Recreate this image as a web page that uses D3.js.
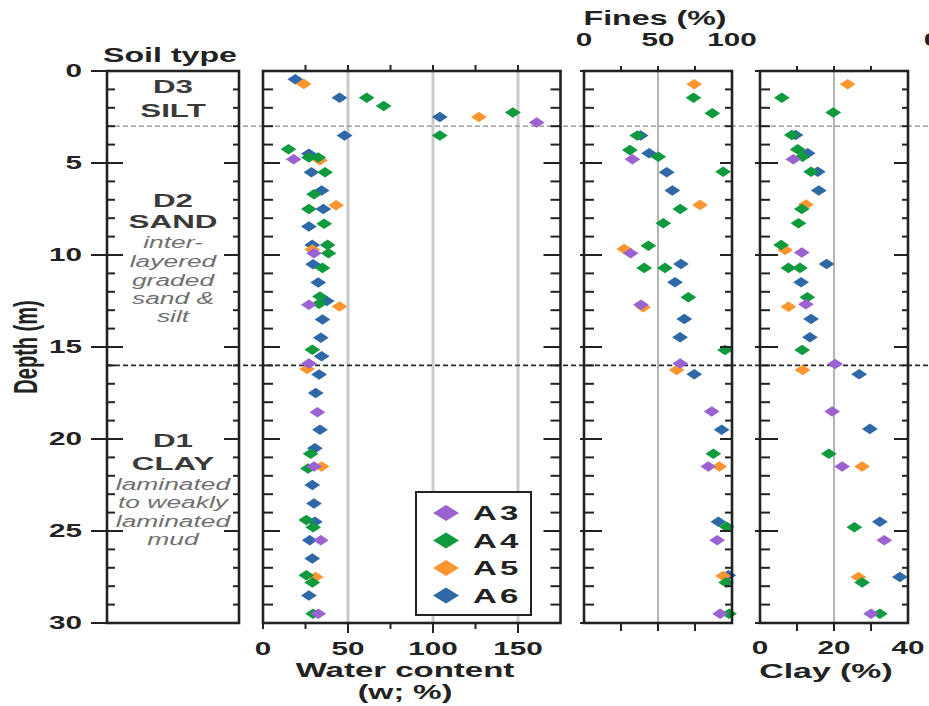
<!DOCTYPE html>
<html>
<head>
<meta charset="utf-8">
<script src="https://cdn.jsdelivr.net/npm/d3@7"></script>
<style>
  body { margin: 0; background: #fff; }
  text { font-family: "Liberation Sans", Arial, sans-serif; }
</style>
</head>
<body>
<svg id="chart" width="929" height="706"></svg>
<script>
// ---- data (depth in m, value) ----
var series = ["A3", "A4", "A5", "A6"];
var colors = ["#9b62d1", "#0f9a3e", "#ff952e", "#2f68a6"];

var depthTicks = [0, 5, 10, 15, 20, 25, 30];
var waterTicks = [0, 50, 100, 150];
var finesTicks = [0, 50, 100];
var clayTicks = [0, 20, 40];
var layerBounds = [3, 16];

var waterA3 = [[2.8,161],[4.8,18],[9.9,30],[12.7,27],[15.9,27],[18.55,32],[21.5,30],[25.5,34],[29.5,32.5]];
var waterA4 = [[1.45,61],[1.9,71],[2.25,147],[3.5,104],[4.25,15],[4.7,27],[4.7,32.5],[5.5,36.5],[6.7,30],
  [7.5,27],[8.3,36],[9.45,38],[9.9,38.5],[10.7,35],[12.25,33.5],[12.65,33],[15.15,29],[20.8,28],[21.6,26.5],
  [24.4,25.5],[24.8,29.5],[27.4,25.5],[27.8,29],[29.5,29.5]];
var waterA5 = [[0.7,24],[2.5,127],[4.85,33.5],[7.3,43],[9.7,29],[12.8,45],[16.2,26],[21.5,34.5],[27.5,31]];
var waterA6 = [[0.45,19],[1.45,45],[2.5,104],[3.5,48],[4.5,27],[5.5,28.5],[6.5,34.5],[7.5,35.5],[8.45,27],
  [9.45,29],[10.5,29.5],[11.5,32.5],[12.5,37.5],[13.5,35],[14.5,34],[15.5,34.5],[16.5,33],[17.5,31],
  [19.5,33.5],[20.5,30.5],[22.5,29],[23.5,30],[24.5,30.5],[25.5,27.5],[26.5,29],[28.5,27]];

var finesA3 = [[4.8,32.7],[9.9,31.5],[12.7,38.5],[15.9,65],[18.5,86.3],[21.5,84],[25.5,90],[29.5,92]];
var finesA4 = [[1.45,74],[2.3,86.7],[3.5,36],[4.3,31],[4.66,50.2],[5.47,94],[7.5,65],[8.28,53.6],[9.5,43.5],
  [10.7,40.7],[10.7,54.7],[12.3,70.5],[15.16,95.3],[20.8,87.4],[24.77,96.4],[27.8,96],[29.5,98]];
var finesA5 = [[0.72,74.5],[7.28,78.4],[9.67,27.2],[12.84,40],[16.25,62.6],[21.5,91.4],[27.45,94]];
var finesA6 = [[3.5,38.3],[4.47,44],[5.5,55.9],[6.5,59.7],[10.49,65.5],[11.48,61.5],[13.48,67.8],[14.47,64.9],
  [16.48,74.5],[19.5,93],[24.5,90.8],[27.4,97.5]];

var clayA3 = [[4.8,9],[9.87,11.3],[12.68,12.4],[15.92,20.3],[18.5,19.5],[21.5,22.2],[25.5,33.6],[29.5,30]];
var clayA4 = [[1.45,5.9],[2.26,19.8],[3.48,8.6],[4.26,10.2],[4.66,11.5],[5.47,13.8],[7.5,11.3],[8.28,10.4],
  [9.46,5.7],[10.7,7.7],[10.7,10.8],[12.3,12.8],[15.16,11.4],[20.8,18.6],[24.8,25.5],[27.8,27.6],[29.5,32.4]];
var clayA5 = [[0.72,23.7],[7.25,12.4],[9.73,6.8],[12.81,7.7],[16.25,11.5],[21.5,27.6],[27.5,26.6]];
var clayA6 = [[3.48,9.6],[4.47,12.9],[5.47,15.6],[6.5,15.9],[10.49,18],[11.48,11.1],[13.48,13.8],[14.47,13.5],
  [16.48,26.8],[19.45,29.7],[24.5,32.4],[27.5,37.8]];

// ---- layout ----
var svg = d3.select("#chart");
var SX = 1.65;          // the figure is stretched horizontally
var ink = "#222";

var y = d3.scaleLinear().domain([0, 30]).range([71, 623]);
var soilX = d3.scaleLinear().domain([0, 1]).range([107, 239]);
var waterX = d3.scaleLinear().domain([0, 175]).range([263, 560.5]);
var finesX = d3.scaleLinear().domain([0, 100]).range([584, 732]);
var clayX = d3.scaleLinear().domain([0, 40]).range([760, 908]);

function label(g, x, yy, txt, size, anchor, opt) {
  opt = opt || {};
  return g.append("text")
    .attr("transform", "translate(" + x + "," + yy + ") scale(" + SX + ",1)")
    .attr("text-anchor", anchor || "middle")
    .attr("font-size", size)
    .attr("font-weight", opt.weight || "bold")
    .attr("font-style", opt.style || "normal")
    .attr("fill", opt.fill || ink)
    .attr("dy", opt.dy || null)
    .text(txt);
}

// vertical-axis ticks along x0, drawn from x0+a to x0+b
function vTicks(g, x0, vals, a, b) {
  g.selectAll(null).data(vals).enter().append("line")
    .attr("x1", x0 + a).attr("x2", x0 + b)
    .attr("y1", function (d) { return y(d); })
    .attr("y2", function (d) { return y(d); })
    .attr("stroke", ink).attr("stroke-width", 2);
}
function hTicks(g, sc, y0, vals, a, b) {
  g.selectAll(null).data(vals).enter().append("line")
    .attr("y1", y0 + a).attr("y2", y0 + b)
    .attr("x1", function (d) { return sc(d); })
    .attr("x2", function (d) { return sc(d); })
    .attr("stroke", ink).attr("stroke-width", 2);
}

var major = d3.range(0, 31, 5);
var minor = d3.range(0, 31).filter(function (d) { return d % 5 !== 0; });

// grid lines
var grid = svg.append("g");
grid.selectAll(null).data([50, 100, 150]).enter().append("line")
  .attr("x1", function (d) { return waterX(d); }).attr("x2", function (d) { return waterX(d); })
  .attr("y1", y(0)).attr("y2", y(30))
  .attr("stroke", "#cacaca").attr("stroke-width", 3);
grid.append("line").attr("x1", finesX(50)).attr("x2", finesX(50)).attr("y1", y(0)).attr("y2", y(30))
  .attr("stroke", "#b4b4b4").attr("stroke-width", 2);
grid.append("line").attr("x1", clayX(20)).attr("x2", clayX(20)).attr("y1", y(0)).attr("y2", y(30))
  .attr("stroke", "#b4b4b4").attr("stroke-width", 2);

// layer boundaries
svg.append("line").attr("x1", soilX(0)).attr("x2", 929).attr("y1", y(layerBounds[0])).attr("y2", y(layerBounds[0]))
  .attr("stroke", "#8a8a8a").attr("stroke-width", 1.2).attr("stroke-dasharray", "5,3");
svg.append("line").attr("x1", soilX(0)).attr("x2", 929).attr("y1", y(layerBounds[1])).attr("y2", y(layerBounds[1]))
  .attr("stroke", "#2a2a2a").attr("stroke-width", 1.8).attr("stroke-dasharray", "5,3");

// points
var diamond = d3.symbol().type(d3.symbolDiamond).size(32);
var panels = [
  { x: waterX, sets: [waterA3, waterA4, waterA5, waterA6] },
  { x: finesX, sets: [finesA3, finesA4, finesA5, finesA6] },
  { x: clayX, sets: [clayA3, clayA4, clayA5, clayA6] }
];
panels.forEach(function (p) {
  var g = svg.append("g");
  [3, 2, 1, 0].forEach(function (k) {
    g.selectAll(null).data(p.sets[k]).enter().append("path")
      .attr("d", diamond)
      .attr("transform", function (d) { return "translate(" + p.x(d[1]) + "," + y(d[0]) + ") scale(2.6,1)"; })
      .attr("fill", colors[k]);
  });
});

// frames and ticks
var frames = svg.append("g");
[soilX, waterX, finesX, clayX].forEach(function (sc) {
  frames.append("rect")
    .attr("x", sc.range()[0]).attr("y", y(0))
    .attr("width", sc.range()[1] - sc.range()[0]).attr("height", y(30) - y(0))
    .attr("fill", "none").attr("stroke", ink).attr("stroke-width", 2.6);
});

// soil type panel
vTicks(frames, soilX(0), major, -16, 16);
vTicks(frames, soilX(0), minor, 0, 8);
vTicks(frames, soilX(1), major, -15, 0);
vTicks(frames, soilX(1), minor, -6, 0);
// water content panel
vTicks(frames, waterX(0), major, 0, 17);
vTicks(frames, waterX(0), minor, 0, 10);
vTicks(frames, waterX.range()[1], major, -17, 0);
vTicks(frames, waterX.range()[1], minor, -10, 0);
hTicks(frames, waterX, y(0), [25, 50, 75, 100, 125, 150], -6, 0);
hTicks(frames, waterX, y(30), [50, 100, 150], 0, 10);
hTicks(frames, waterX, y(30), [0, 25, 75, 125], 0, 6);
// fines panel
vTicks(frames, finesX(0), major, -4, 18);
vTicks(frames, finesX(0), minor, 0, 10);
vTicks(frames, finesX(100), major, -12, 0);
vTicks(frames, finesX(100), minor, -7, 0);
hTicks(frames, finesX, y(0), [25, 50, 75], -5, 0);
hTicks(frames, finesX, y(30), [25, 50, 75], 0, 8);
// clay panel
vTicks(frames, clayX(0), major, -5, 18);
vTicks(frames, clayX(0), minor, 0, 10);
vTicks(frames, clayX(40), major, -14, 0);
vTicks(frames, clayX(40), minor, -6, 0);
hTicks(frames, clayX, y(0), [10, 20, 30], -5, 0);
hTicks(frames, clayX, y(30), [10, 20, 30], 0, 8);

// ---- text ----
var txt = svg.append("g");
depthTicks.forEach(function (d) { label(txt, 82, y(d), d, 18, "end", { dy: "0.36em" }); });
waterTicks.forEach(function (d) { label(txt, waterX(d), 655, d, 18); });
finesTicks.forEach(function (d) { label(txt, finesX(d), 46, d, 18); });
clayTicks.forEach(function (d) { label(txt, clayX(d), 654, d, 18); });
label(txt, 932, 46, "0", 18);

label(txt, 170, 62, "Soil type", 19.5);
label(txt, 655, 25, "Fines (%)", 19.5);
label(txt, 405, 677, "Water content", 20);
label(txt, 405, 699, "(w; %)", 19.5);
label(txt, 826, 678, "Clay (%)", 20.5);
txt.append("text")
  .attr("transform", "translate(37,347) scale(" + SX + ",1) rotate(-90)")
  .attr("text-anchor", "middle").attr("font-size", 20).attr("font-weight", "bold").attr("fill", ink)
  .text("Depth (m)");

// soil units
var unitInk = "#3a3a3a", noteInk = "#707070";
label(txt, 173, 93, "D3", 19, "middle", { fill: unitInk });
label(txt, 173, 117, "SILT", 19, "middle", { fill: unitInk });
label(txt, 173, 207, "D2", 19, "middle", { fill: unitInk });
label(txt, 173, 228, "SAND", 19, "middle", { fill: unitInk });
[["inter-", 248], ["layered", 267], ["graded", 286], ["sand &", 304], ["silt", 322]].forEach(function (t) {
  label(txt, 173, t[1], t[0], 16, "middle", { fill: noteInk, weight: "normal", style: "italic" });
});
label(txt, 173, 447, "D1", 19, "middle", { fill: unitInk });
label(txt, 173, 470, "CLAY", 19, "middle", { fill: unitInk });
[["laminated", 490], ["to weakly", 508], ["laminated", 527], ["mud", 545]].forEach(function (t) {
  label(txt, 173, t[1], t[0], 16, "middle", { fill: noteInk, weight: "normal", style: "italic" });
});

// legend
var leg = svg.append("g");
leg.append("rect").attr("x", 416).attr("y", 492).attr("width", 115).attr("height", 123)
  .attr("fill", "#fff").attr("stroke", ink).attr("stroke-width", 2);
var bigDiamond = d3.symbol().type(d3.symbolDiamond).size(74);
series.forEach(function (s, i) {
  var cy = 513 + i * 27.5;
  leg.append("path").attr("d", bigDiamond)
    .attr("transform", "translate(446," + cy + ") scale(2.8,1)")
    .attr("fill", colors[i]);
  label(leg, 473, cy + 7, s, 20, "start").attr("letter-spacing", "2px");
});
</script>
</body>
</html>
